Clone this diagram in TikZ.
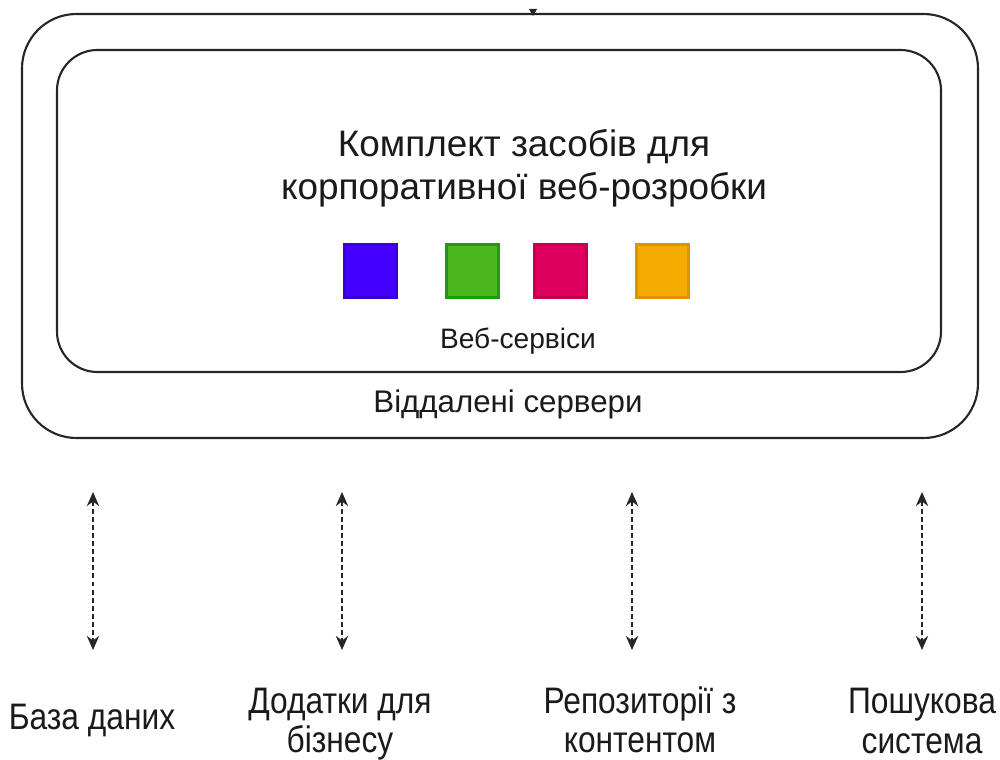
\documentclass[tikz,border=0pt]{standalone}
\usepackage{fontspec}
\setmainfont{Liberation Sans}
\newfontfamily\narrowfont[FakeStretch=0.86]{Liberation Sans}
\usetikzlibrary{arrows.meta}
\definecolor{sqblue}{HTML}{4400FF}
\definecolor{sqblueb}{HTML}{3A00D6}
\definecolor{sqgreen}{HTML}{4CB820}
\definecolor{sqgreenb}{HTML}{1E9A0E}
\definecolor{sqred}{HTML}{E0005F}
\definecolor{sqredb}{HTML}{C4004E}
\definecolor{sqorange}{HTML}{F2AC00}
\definecolor{sqorangeb}{HTML}{E09200}
\definecolor{txt}{HTML}{1A1A1A}
\begin{document}
\begin{tikzpicture}[x=0.02cm,y=-0.02cm,
  frame/.style={draw=black!85,line width=1.2pt},
  sq/.style={minimum width=30pt,minimum height=30pt,inner sep=0pt,line width=1.6pt},
  link/.style={draw=black!85,line width=1.2pt,dash pattern=on 2.8pt off 1.8pt,
     {Stealth[length=8pt,width=7pt]}-{Stealth[length=8pt,width=7pt]}},
  lbl/.style={font=\narrowfont\fontsize{21}{22.5}\selectfont,text=txt,align=center,inner sep=0pt}]
\useasboundingbox (0,0) rectangle (1000,760);
\draw[frame,rounded corners=31pt] (22,14) rectangle (978,438);
\draw[frame,rounded corners=23pt] (57,50) rectangle (941,372);
\node (servers) at (508,404) [font=\fontsize{17.8}{20}\selectfont,text=txt,inner sep=0pt] {Віддалені сервери};
\node (title) at (524,168) [font=\fontsize{21}{24.4}\selectfont,text=txt,align=center,inner sep=0pt] {Комплект засобів для\\корпоративної веб-розробки};
\node (ws) at (518,341) [font=\fontsize{16}{18}\selectfont,text=txt,inner sep=0pt] {Веб-сервіси};
\node[sq,fill=sqblue,draw=sqblueb] (s1) at (370.5,271) {};
\node[sq,fill=sqgreen,draw=sqgreenb] (s2) at (472.5,271) {};
\node[sq,fill=sqred,draw=sqredb] (s3) at (560.5,271) {};
\node[sq,fill=sqorange,draw=sqorangeb] (s4) at (662.5,271) {};
\fill[black!85] (529,9) -- (537,9) -- (533,16) -- cycle;
\coordinate (a1t) at (93,492); \coordinate (a1b) at (93,650);
\coordinate (a2t) at (342,492); \coordinate (a2b) at (342,650);
\coordinate (a3t) at (632,492); \coordinate (a3b) at (632,650);
\coordinate (a4t) at (922,492); \coordinate (a4b) at (922,650);
\draw[link] (a1t) -- (a1b);
\draw[link] (a2t) -- (a2b);
\draw[link] (a3t) -- (a3b);
\draw[link] (a4t) -- (a4b);
\node[lbl] (db) at (92,720) {База даних};
\node[lbl] (biz) at (340,724) {Додатки для\\бізнесу};
\node[lbl] (repo) at (640,720) {Репозиторії з\\контентом};
\node[lbl] (search) at (922,721) {Пошукова\\система};
\end{tikzpicture}
\end{document}
